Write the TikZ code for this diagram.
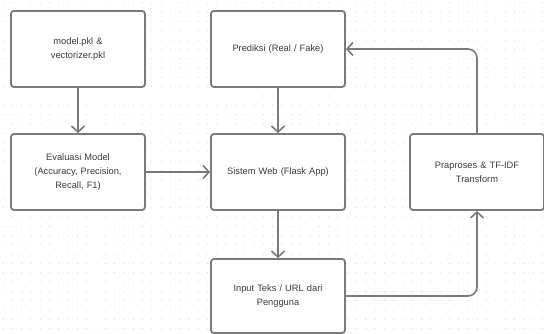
\documentclass[tikz,border=0pt]{standalone}
\usepackage{fontspec}
\setmainfont{Liberation Sans}
\usetikzlibrary{arrows.meta}
\definecolor{edgegray}{HTML}{7A7A7A}
\definecolor{txtgray}{HTML}{3C3C3C}
\definecolor{dotgray}{HTML}{D8D8D8}
\begin{document}
\begin{tikzpicture}[x=1pt,y=-1pt,
  box/.style={draw=edgegray,line width=1.8pt,rounded corners=3pt,fill=white,
    minimum width=134pt,minimum height=76pt,inner sep=0pt,text width=118pt,align=center,
    font=\fontsize{9.3}{14}\selectfont,text=txtgray},
  conn/.style={draw=edgegray,line width=1.6pt,rounded corners=9pt,
    -{Straight Barb[length=6pt,width=13pt,line width=1.6pt]}}]
\fill[white] (0,0) rectangle (544,334);
\useasboundingbox (0,0) rectangle (544,334);
\foreach \i in {0,...,58}{
  \foreach \j in {0,...,36}{
    \fill[dotgray] (3+\i*9.3,3+\j*9.3) circle (0.6pt);
  }
}
\node[box] (model) at (78,49) {model.pkl \&\\vectorizer.pkl};
\node[box] (pred) at (278,49) {Prediksi (Real / Fake)};
\node[box] (eval) at (78,172) {Evaluasi Model\\(Accuracy, Precision,\\Recall, F1)};
\node[box] (web) at (278,172) {Sistem Web (Flask App)};
\node[box] (prep) at (477,172) {Praproses \& TF-IDF\\Transform};
\node[box,minimum height=74pt] (inp) at (278,296) {Input Teks / URL dari\\Pengguna};
\draw[conn] (model) -- (eval);
\draw[conn] (pred) -- (web);
\draw[conn] (web) -- (inp);
\draw[conn] (eval) -- (web);
\draw[conn] (inp.east) -| (prep.south);
\draw[conn] (prep.north) |- (pred.east);
\end{tikzpicture}
\end{document}
